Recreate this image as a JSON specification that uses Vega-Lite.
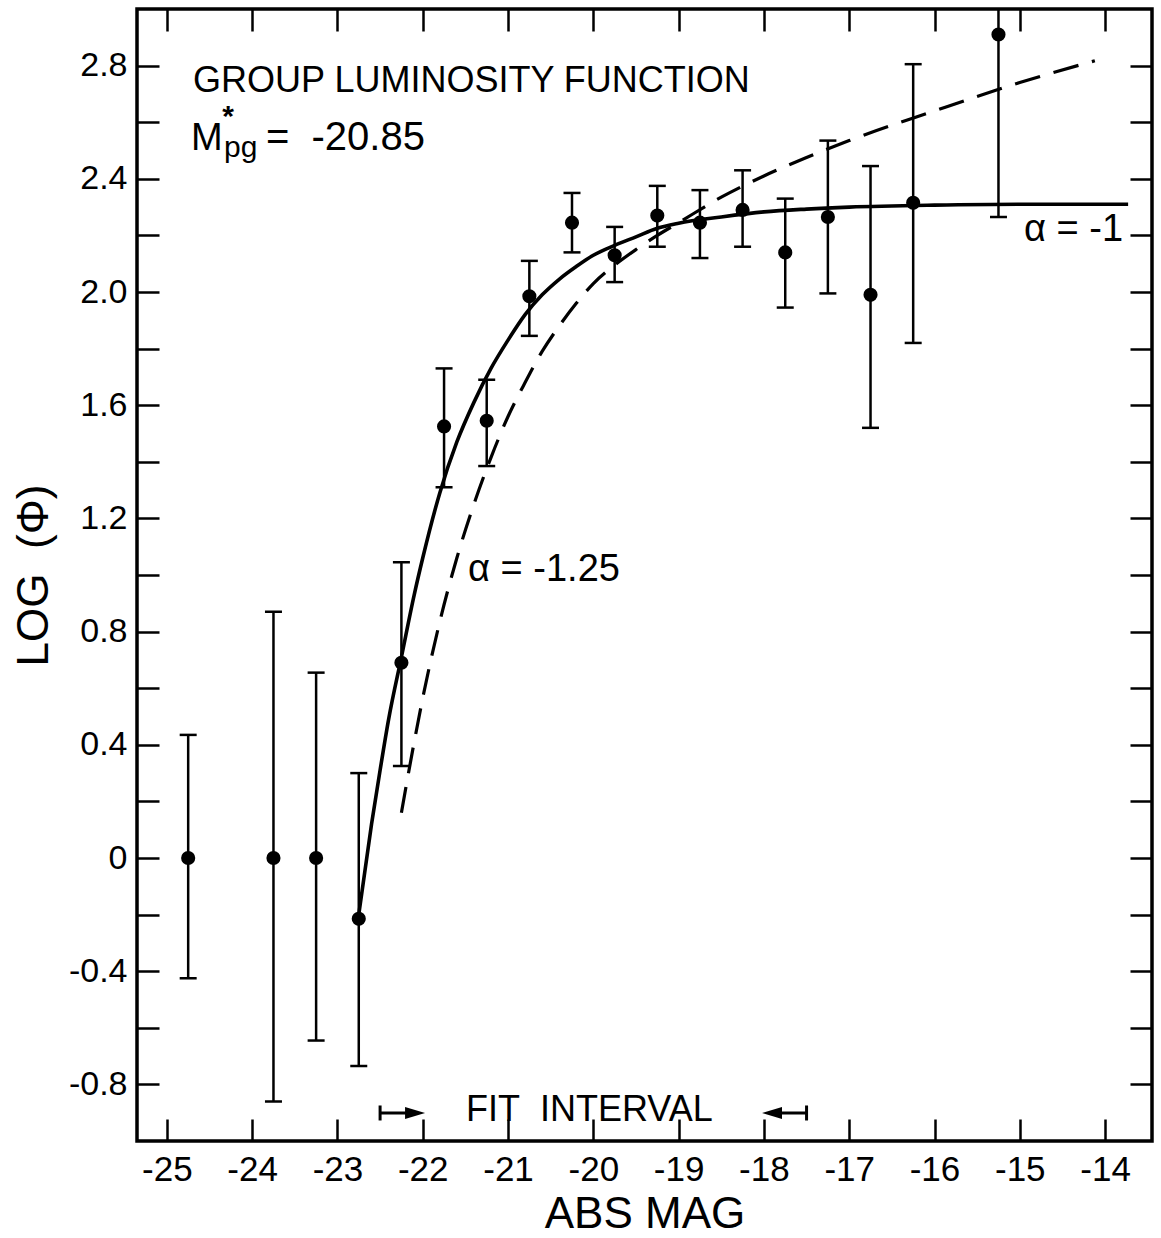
{
  "$schema": "https://vega.github.io/schema/vega-lite/v6.json",
  "width": 1015,
  "height": 1132,
  "autosize": {"type": "none"},
  "padding": {"left": 137, "top": 9, "right": 9, "bottom": 97},
  "background": "white",
  "config": {
    "view": {"stroke": "black", "strokeWidth": 3.5},
    "axis": {"domain": false, "grid": false, "tickColor": "black", "tickWidth": 2.5, "tickSize": -22, "labelColor": "black", "titleColor": "black", "labelFont": "Liberation Sans", "titleFont": "Liberation Sans", "titleFontWeight": "normal", "labelOverlap": false, "labelBound": false, "labelFlush": false},
    "text": {"font": "Liberation Sans", "color": "black"}
  },
  "datasets": {
    "obs": [
      {"mag": -24.75, "logphi": 0.0, "lo": -0.425, "hi": 0.435},
      {"mag": -23.75, "logphi": 0.0, "lo": -0.86, "hi": 0.87},
      {"mag": -23.25, "logphi": 0.0, "lo": -0.645, "hi": 0.655},
      {"mag": -22.75, "logphi": -0.215, "lo": -0.735, "hi": 0.30},
      {"mag": -22.25, "logphi": 0.69, "lo": 0.325, "hi": 1.045},
      {"mag": -21.75, "logphi": 1.525, "lo": 1.31, "hi": 1.73},
      {"mag": -21.25, "logphi": 1.545, "lo": 1.385, "hi": 1.69},
      {"mag": -20.75, "logphi": 1.985, "lo": 1.845, "hi": 2.11},
      {"mag": -20.25, "logphi": 2.245, "lo": 2.14, "hi": 2.35},
      {"mag": -19.75, "logphi": 2.13, "lo": 2.035, "hi": 2.23},
      {"mag": -19.25, "logphi": 2.27, "lo": 2.16, "hi": 2.375},
      {"mag": -18.75, "logphi": 2.245, "lo": 2.12, "hi": 2.36},
      {"mag": -18.25, "logphi": 2.29, "lo": 2.16, "hi": 2.43},
      {"mag": -17.75, "logphi": 2.14, "lo": 1.945, "hi": 2.33},
      {"mag": -17.25, "logphi": 2.265, "lo": 1.995, "hi": 2.535},
      {"mag": -16.75, "logphi": 1.99, "lo": 1.52, "hi": 2.445},
      {"mag": -16.25, "logphi": 2.315, "lo": 1.82, "hi": 2.805},
      {"mag": -15.25, "logphi": 2.91, "lo": 2.265, "hi": 3.3}
    ],
    "alpha1": [
      {"mag": -22.75, "logphi": -0.2},
      {"mag": -22.6, "logphi": 0.12},
      {"mag": -22.5, "logphi": 0.31},
      {"mag": -22.4, "logphi": 0.49},
      {"mag": -22.25, "logphi": 0.71},
      {"mag": -22.1, "logphi": 0.93},
      {"mag": -22.0, "logphi": 1.06},
      {"mag": -21.8, "logphi": 1.29},
      {"mag": -21.6, "logphi": 1.47},
      {"mag": -21.4, "logphi": 1.61},
      {"mag": -21.2, "logphi": 1.73},
      {"mag": -21.0, "logphi": 1.83},
      {"mag": -20.8, "logphi": 1.92},
      {"mag": -20.6, "logphi": 1.99},
      {"mag": -20.4, "logphi": 2.045},
      {"mag": -20.2, "logphi": 2.09},
      {"mag": -20.0, "logphi": 2.13},
      {"mag": -19.75, "logphi": 2.165},
      {"mag": -19.5, "logphi": 2.195},
      {"mag": -19.25, "logphi": 2.225},
      {"mag": -19.0, "logphi": 2.243},
      {"mag": -18.5, "logphi": 2.265},
      {"mag": -18.0, "logphi": 2.283},
      {"mag": -17.5, "logphi": 2.293},
      {"mag": -17.0, "logphi": 2.3},
      {"mag": -16.0, "logphi": 2.307},
      {"mag": -15.0, "logphi": 2.31},
      {"mag": -13.73, "logphi": 2.31}
    ],
    "alpha125": [
      {"mag": -22.25, "logphi": 0.16},
      {"mag": -22.1, "logphi": 0.41},
      {"mag": -22.0, "logphi": 0.565},
      {"mag": -21.8, "logphi": 0.835},
      {"mag": -21.6, "logphi": 1.06},
      {"mag": -21.4, "logphi": 1.25},
      {"mag": -21.2, "logphi": 1.415},
      {"mag": -21.0, "logphi": 1.56},
      {"mag": -20.8, "logphi": 1.68},
      {"mag": -20.6, "logphi": 1.79},
      {"mag": -20.4, "logphi": 1.88},
      {"mag": -20.2, "logphi": 1.96},
      {"mag": -20.0, "logphi": 2.03},
      {"mag": -19.75, "logphi": 2.095},
      {"mag": -19.5, "logphi": 2.15},
      {"mag": -19.25, "logphi": 2.2},
      {"mag": -19.0, "logphi": 2.245},
      {"mag": -18.5, "logphi": 2.335},
      {"mag": -18.0, "logphi": 2.41},
      {"mag": -17.5, "logphi": 2.475},
      {"mag": -17.0, "logphi": 2.535},
      {"mag": -16.0, "logphi": 2.64},
      {"mag": -15.0, "logphi": 2.74},
      {"mag": -14.12, "logphi": 2.817}
    ],
    "text36": [
      {"label": "GROUP LUMINOSITY FUNCTION", "mag": -24.693, "logphi": 2.707},
      {"label": "FIT\u00a0 INTERVAL", "mag": -21.493, "logphi": -0.929}
    ],
    "text40": [
      {"label": "=\u00a0 -20.85", "mag": -23.838, "logphi": 2.502}
    ],
    "text38": [
      {"label": "M", "mag": -24.717, "logphi": 2.502},
      {"label": "α = -1.25", "mag": -21.469, "logphi": 0.979},
      {"label": "α = -1", "mag": -14.95, "logphi": 2.18}
    ],
    "sup": [{"label": "*", "mag": -24.283, "logphi": 2.5866}],
    "sub": [{"label": "pg", "mag": -24.33, "logphi": 2.477}],
    "arrowR": [{"from": -22.5, "to": -22.09, "y": -0.901}],
    "arrowL": [{"from": -17.5, "to": -17.905, "y": -0.901}]
  },
  "layer": [
    {
      "data": {"name": "obs"},
      "mark": {"type": "rule", "strokeWidth": 2.5, "color": "black", "clip": true},
      "encoding": {
        "x": {"field": "mag", "type": "quantitative", "scale": {"domain": [-25.35, -13.45], "nice": false, "zero": false},
          "axis": {"orient": "bottom", "values": [-25, -24, -23, -22, -21, -20, -19, -18, -17, -16, -15, -14], "labelFontSize": 35, "labelPadding": 33, "labelExpr": "replace(datum.label, '−', '-')", "title": "ABS MAG", "titleFontSize": 44, "titlePadding": 5}},
        "y": {"field": "lo", "type": "quantitative", "scale": {"domain": [-1, 3], "nice": false, "zero": false},
          "axis": {"orient": "left", "values": [-0.8, -0.6, -0.4, -0.2, 0, 0.2, 0.4, 0.6, 0.8, 1, 1.2, 1.4, 1.6, 1.8, 2, 2.2, 2.4, 2.6, 2.8], "labelFontSize": 34, "labelPadding": 32, "labelExpr": "abs(round(datum.value*10)) % 4 == 0 ? (datum.value == 0 ? '0' : replace(format(datum.value, '.1f'), '−', '-')) : ''", "title": "LOG\u00a0\u00a0(Φ)", "titleFontSize": 44, "titlePadding": 12}},
        "y2": {"field": "hi"}
      }
    },
    {
      "data": {"name": "obs"},
      "mark": {"type": "tick", "orient": "horizontal", "size": 17, "thickness": 2.5, "color": "black", "opacity": 1},
      "encoding": {
        "x": {"field": "mag", "type": "quantitative", "axis": null},
        "y": {"field": "lo", "type": "quantitative", "axis": null}
      }
    },
    {
      "data": {"name": "obs"},
      "transform": [{"filter": "datum.hi < 3"}],
      "mark": {"type": "tick", "orient": "horizontal", "size": 17, "thickness": 2.5, "color": "black", "opacity": 1},
      "encoding": {
        "x": {"field": "mag", "type": "quantitative", "axis": null},
        "y": {"field": "hi", "type": "quantitative", "axis": null}
      }
    },
    {
      "data": {"name": "obs"},
      "mark": {"type": "circle", "size": 200, "color": "black", "opacity": 1},
      "encoding": {
        "x": {"field": "mag", "type": "quantitative", "axis": {"orient": "top", "values": [-25, -24, -23, -22, -21, -20, -19, -18, -17, -16, -15, -14], "labels": false, "title": null}},
        "y": {"field": "logphi", "type": "quantitative", "axis": {"orient": "right", "values": [-0.8, -0.6, -0.4, -0.2, 0, 0.2, 0.4, 0.6, 0.8, 1, 1.2, 1.4, 1.6, 1.8, 2, 2.2, 2.4, 2.6, 2.8], "labels": false, "title": null}}
      }
    },
    {
      "data": {"name": "alpha1"},
      "mark": {"type": "line", "strokeWidth": 3.6, "color": "black", "interpolate": "monotone"},
      "encoding": {
        "x": {"field": "mag", "type": "quantitative", "axis": null},
        "y": {"field": "logphi", "type": "quantitative", "axis": null}
      }
    },
    {
      "data": {"name": "alpha125"},
      "mark": {"type": "line", "strokeWidth": 3.2, "color": "black", "strokeDash": [26, 14], "interpolate": "monotone"},
      "encoding": {
        "x": {"field": "mag", "type": "quantitative", "axis": null},
        "y": {"field": "logphi", "type": "quantitative", "axis": null}
      }
    },
    {
      "data": {"name": "text36"},
      "mark": {"type": "text", "fontSize": 36, "align": "left", "baseline": "alphabetic", "color": "black"},
      "encoding": {
        "x": {"field": "mag", "type": "quantitative", "axis": null},
        "y": {"field": "logphi", "type": "quantitative", "axis": null},
        "text": {"field": "label"}
      }
    },
    {
      "data": {"name": "text40"},
      "mark": {"type": "text", "fontSize": 40, "align": "left", "baseline": "alphabetic", "color": "black"},
      "encoding": {
        "x": {"field": "mag", "type": "quantitative", "axis": null},
        "y": {"field": "logphi", "type": "quantitative", "axis": null},
        "text": {"field": "label"}
      }
    },
    {
      "data": {"name": "text38"},
      "mark": {"type": "text", "fontSize": 38, "align": "left", "baseline": "alphabetic", "color": "black"},
      "encoding": {
        "x": {"field": "mag", "type": "quantitative", "axis": null},
        "y": {"field": "logphi", "type": "quantitative", "axis": null},
        "text": {"field": "label"}
      }
    },
    {
      "data": {"name": "sup"},
      "mark": {"type": "text", "fontSize": 30, "fontWeight": "bold", "align": "center", "baseline": "alphabetic", "color": "black"},
      "encoding": {
        "x": {"field": "mag", "type": "quantitative", "axis": null},
        "y": {"field": "logphi", "type": "quantitative", "axis": null},
        "text": {"field": "label"}
      }
    },
    {
      "data": {"name": "sub"},
      "mark": {"type": "text", "fontSize": 30, "align": "left", "baseline": "alphabetic", "color": "black"},
      "encoding": {
        "x": {"field": "mag", "type": "quantitative", "axis": null},
        "y": {"field": "logphi", "type": "quantitative", "axis": null},
        "text": {"field": "label"}
      }
    },
    {
      "data": {"name": "arrowR"},
      "mark": {"type": "rule", "strokeWidth": 3, "color": "black"},
      "encoding": {
        "x": {"field": "from", "type": "quantitative", "axis": null},
        "x2": {"field": "to"},
        "y": {"field": "y", "type": "quantitative", "axis": null}
      }
    },
    {
      "data": {"name": "arrowL"},
      "mark": {"type": "rule", "strokeWidth": 3, "color": "black"},
      "encoding": {
        "x": {"field": "from", "type": "quantitative", "axis": null},
        "x2": {"field": "to"},
        "y": {"field": "y", "type": "quantitative", "axis": null}
      }
    },
    {
      "data": {"name": "arrowR"},
      "mark": {"type": "tick", "orient": "vertical", "size": 15, "thickness": 3, "color": "black", "opacity": 1},
      "encoding": {
        "x": {"field": "from", "type": "quantitative", "axis": null},
        "y": {"field": "y", "type": "quantitative", "axis": null}
      }
    },
    {
      "data": {"name": "arrowL"},
      "mark": {"type": "tick", "orient": "vertical", "size": 15, "thickness": 3, "color": "black", "opacity": 1},
      "encoding": {
        "x": {"field": "from", "type": "quantitative", "axis": null},
        "y": {"field": "y", "type": "quantitative", "axis": null}
      }
    },
    {
      "data": {"name": "arrowR"},
      "mark": {"type": "point", "shape": "M-1,-0.6L1,0L-1,0.6Z", "filled": true, "size": 400, "color": "black", "opacity": 1, "strokeWidth": 0},
      "encoding": {
        "x": {"field": "to", "type": "quantitative", "axis": null},
        "y": {"field": "y", "type": "quantitative", "axis": null}
      }
    },
    {
      "data": {"name": "arrowL"},
      "mark": {"type": "point", "shape": "M1,-0.6L-1,0L1,0.6Z", "filled": true, "size": 400, "color": "black", "opacity": 1, "strokeWidth": 0},
      "encoding": {
        "x": {"field": "to", "type": "quantitative", "axis": null},
        "y": {"field": "y", "type": "quantitative", "axis": null}
      }
    }
  ],
  "resolve": {"axis": {"x": "independent", "y": "independent"}}
}
